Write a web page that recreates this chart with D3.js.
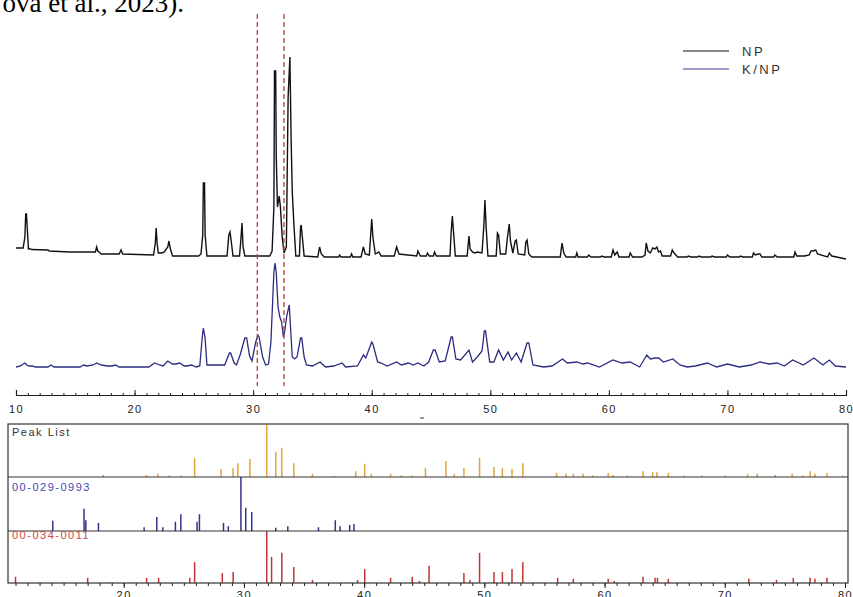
<!DOCTYPE html>
<html>
<head>
  <meta charset="utf-8">
  <title>XRD NP vs K/NP</title>
  <script src="https://cdn.jsdelivr.net/npm/d3@7/dist/d3.min.js"></script>
  <style>
    body { margin: 0; background: #fff; }
    svg { display: block; font-family: "Liberation Sans", Arial, sans-serif; }
  </style>
</head>
<body>
  <svg id="chart"></svg>

  <script>
    // 2-theta / counts (counts above each trace's own zero)
    const npTrace = [
      [10.0, 90], [10.6, 90], [10.75, 200], [10.82, 430], [10.88, 430], [10.95, 290], [11.05, 80], [11.15, 85], [11.3, 75],
      [12.7, 70], [12.8, 60], [14.5, 50], [16.7, 50], [16.8, 100], [16.9, 60], [17.2, 30], [18.7, 30],
      [18.86, 70], [19.0, 30], [21.6, 20], [21.75, 140], [21.82, 290], [21.9, 140], [22.0, 40], [22.3, 40],
      [22.5, 50], [22.8, 100], [22.9, 160], [23.0, 90], [23.2, 10], [25.4, 10], [25.6, 30], [25.75, 220],
      [25.8, 740], [25.9, 740], [25.95, 220], [26.1, 10], [27.8, 10], [27.95, 220], [28.05, 250], [28.15, 160], [28.3, 10],
      [28.85, 10], [28.95, 150], [29.06, 340], [29.15, 100], [29.3, 10], [31.4, 10], [31.6, 60], [31.75, 500],
      [31.8, 1860], [31.9, 1860], [31.95, 1000], [32.05, 500], [32.2, 610], [32.3, 500], [32.45, 200], [32.6, 40], [32.8, 100],
      [32.95, 1600], [33.1, 2000], [33.2, 1200], [33.3, 650], [33.45, 300], [33.6, 10], [33.9, 10], [34.0, 300],
      [34.05, 320], [34.15, 200], [34.3, 10], [35.45, 0], [35.6, 100], [35.75, 30], [36.0, 0], [37.2, 0],
      [37.3, 20], [37.4, 0], [38.2, 0], [38.3, 30], [38.4, 0], [39.1, 0], [39.3, 100], [39.45, 30], [39.8, 20],
      [39.9, 200], [40.0, 380], [40.1, 200], [40.3, 30], [40.6, 50], [40.8, 10], [41.9, 10], [42.1, 100],
      [42.3, 30], [43.8, 10], [43.9, 60], [44.1, 10], [44.6, 10], [44.7, 40], [44.85, 10], [45.2, 10],
      [45.3, 50], [45.45, 10], [46.6, 10], [46.7, 250], [46.8, 410], [46.9, 250], [47.05, 10], [48.05, 10],
      [48.2, 210], [48.3, 80], [48.5, 50], [48.7, 40], [48.9, 50], [49.3, 40], [49.45, 300], [49.55, 570],
      [49.65, 300], [49.8, 10], [50.5, 10], [50.6, 240], [50.7, 220], [50.85, 30], [51.3, 30], [51.45, 200],
      [51.6, 330], [51.7, 160], [51.9, 40], [52.1, 160], [52.2, 170], [52.35, 30], [52.9, 20], [53.0, 150],
      [53.1, 170], [53.25, 30], [53.5, 0], [55.9, 0], [56.05, 140], [56.2, 40], [56.4, 0], [57.2, 0],
      [57.3, 40], [57.4, 0], [58.2, 0], [58.3, 20], [58.5, 0], [59.3, 0], [59.4, 10], [59.6, 0], [60.2, 0],
      [60.35, 70], [60.5, 20], [60.7, 50], [60.85, 0], [61.7, 0], [61.8, 40], [62.0, 0], [62.8, 0],
      [63.05, 20], [63.15, 140], [63.3, 60], [63.5, 40], [63.7, 90], [63.9, 80], [64.05, 100], [64.2, 50],
      [64.35, 60], [64.5, 10], [65.2, 10], [65.35, 70], [65.5, 40], [65.8, 0], [66.6, 0], [66.7, 10],
      [66.9, 0], [67.5, 0], [67.6, 10], [67.8, 0], [68.6, 0], [68.7, 10], [68.9, 0], [69.9, 0], [70.0, 20],
      [70.2, 0], [71.0, 0], [71.1, 10], [71.3, 0], [72.1, 0], [72.2, 40], [72.35, 20], [72.6, 30],
      [72.75, 30], [72.9, 0], [73.9, 0], [74.0, 20], [74.2, 0], [75.6, 0], [75.7, 50], [75.85, 10],
      [76.5, 10], [76.9, 20], [77.05, 60], [77.2, 60], [77.45, 70], [77.6, 30], [78.45, 0], [78.6, 40],
      [78.8, 10], [79.2, 0], [80.0, -20]
    ];

    const knpTrace = [
      [10.0, 0], [10.4, 10], [10.6, 30], [10.76, 40], [10.9, 20], [11.1, 10], [11.4, 10], [11.6, 0],
      [12.7, 0], [12.95, 20], [13.2, 0], [15.4, 0], [15.7, 20], [16.0, 10], [16.5, 20], [16.8, 40],
      [17.2, 20], [17.7, 10], [18.1, 10], [18.4, 20], [18.7, 0], [21.2, 0], [21.7, 40], [22.1, 20],
      [22.4, 10], [22.8, 60], [23.2, 30], [23.5, 30], [23.8, 40], [24.2, 10], [24.4, 10], [24.8, 20],
      [25.2, 0], [25.5, 10], [25.7, 290], [25.8, 390], [25.95, 290], [26.1, 20], [26.4, 20], [27.6, 20],
      [28.0, 140], [28.1, 140], [28.4, 40], [28.6, 20], [28.9, 120], [29.3, 290], [29.45, 290], [29.7, 110],
      [29.9, 60], [30.2, 240], [30.4, 320], [30.5, 300], [30.8, 100], [31.05, 20], [31.3, 30], [31.5, 250],
      [31.75, 950], [31.85, 1040], [31.95, 940], [32.1, 600], [32.25, 500], [32.4, 450], [32.55, 300],
      [32.65, 350], [32.85, 520], [33.05, 620], [33.15, 400], [33.3, 100], [33.5, 80], [33.7, 100],
      [34.0, 290], [34.1, 290], [34.3, 100], [34.5, 20], [35.0, 10], [35.65, 50], [36.1, 0], [36.8, 10],
      [37.5, 40], [37.8, 0], [38.8, 10], [39.3, 120], [39.5, 90], [40.0, 250], [40.1, 230], [40.5, 50],
      [40.8, 40], [41.3, 10], [42.1, 50], [42.5, 20], [43.1, 40], [43.5, 20], [43.9, 40], [44.4, 10],
      [44.8, 50], [45.2, 170], [45.35, 170], [45.7, 50], [46.2, 60], [46.7, 300], [46.8, 300], [47.1, 80],
      [47.5, 70], [48.2, 170], [48.5, 50], [48.9, 100], [49.3, 160], [49.5, 360], [49.6, 360], [49.95, 50],
      [50.3, 50], [50.7, 170], [51.1, 70], [51.5, 150], [51.8, 70], [52.2, 140], [52.6, 50], [53.1, 240],
      [53.25, 240], [53.6, 20], [54.5, 0], [55.2, 10], [56.1, 80], [56.5, 40], [57.3, 50], [57.8, 30],
      [58.2, 40], [59.2, 0], [60.35, 70], [61.1, 40], [61.8, 50], [62.6, 0], [63.2, 120], [63.5, 80],
      [63.9, 90], [64.2, 90], [64.6, 50], [65.4, 80], [66.0, 20], [66.6, 0], [67.3, 10], [68.3, 40],
      [69.1, 0], [70.0, 30], [71.0, 0], [72.0, 20], [72.75, 50], [73.5, 30], [74.2, 40], [74.8, 10],
      [75.5, 70], [76.4, 20], [77.3, 90], [78.05, 20], [78.6, 70], [79.1, 10], [80.0, 0]
    ];

    // reference sticks: 2-theta, relative intensity %
    const peakList = [
      [18.3, 4], [21.9, 4], [22.85, 6], [23.8, 3], [24.8, 3], [25.9, 36], [28.1, 15], [29.1, 17], [29.5, 26],
      [30.5, 34], [31.9, 100], [32.65, 47], [33.15, 55], [34.15, 26], [35.7, 6], [37.5, 2], [39.3, 11],
      [40.05, 25], [40.6, 6], [42.2, 6], [43.1, 3], [44.0, 3], [45.1, 17], [46.8, 30], [47.5, 6], [48.3, 17],
      [49.6, 36], [50.8, 19], [51.5, 17], [52.3, 15], [53.2, 26], [56.0, 8], [56.8, 6], [57.4, 6], [58.2, 6],
      [59.0, 3], [60.3, 8], [60.7, 4], [61.9, 3], [63.2, 11], [64.0, 9], [64.35, 9], [65.3, 8], [66.6, 3],
      [68.1, 3], [70.0, 3], [71.9, 6], [72.7, 6], [74.2, 4], [75.6, 6], [76.5, 3], [77.1, 11], [77.5, 6],
      [78.5, 8], [79.8, 3]
    ];
    const ref0290993 = [
      [14.1, 19], [16.7, 41], [16.85, 20], [17.9, 15], [21.7, 7], [22.75, 26], [23.25, 7], [24.3, 17],
      [24.75, 31], [26.1, 17], [26.3, 31], [28.3, 15], [28.7, 9], [29.75, 100], [30.15, 43], [30.65, 35],
      [32.65, 6], [33.65, 9], [36.2, 7], [37.6, 20], [38.0, 9], [38.8, 11], [39.15, 13]
    ];
    const ref0340011 = [
      [11.0, 12], [17.0, 10], [21.9, 10], [22.9, 10], [25.5, 10], [25.9, 40], [28.2, 19], [29.1, 21],
      [31.9, 100], [32.3, 50], [33.15, 58], [34.15, 31], [35.7, 6], [39.45, 6], [40.05, 27], [42.2, 10],
      [44.0, 12], [44.6, 4], [45.4, 33], [48.3, 19], [48.8, 6], [49.6, 58], [50.8, 21], [51.5, 21],
      [52.3, 27], [53.2, 40], [56.1, 10], [57.4, 8], [60.3, 8], [60.8, 4], [63.2, 12], [64.2, 10],
      [64.4, 10], [65.3, 8], [72.0, 8], [74.3, 6], [75.7, 10], [77.1, 10], [77.5, 8], [78.5, 10]
    ];

    const markLines = [30.35, 32.6];
    const seriesNames = ["NP", "K/NP"];
    const panelNames = ["Peak List", "00-029-0993", "00-034-0011"];
    const topTicks = [10, 20, 30, 40, 50, 60, 70, 80];
    const bottomTicks = [20, 30, 40, 50, 60, 70, 80];

    const width = 853, height = 597;
    const npOffset = 1100;

    const svg = d3.select("#chart")
      .attr("width", width)
      .attr("height", height);

    // cut-off caption from the page above the figure
    svg.append("text")
      .attr("x", 184).attr("y", 12)
      .attr("text-anchor", "end")
      .style("font-family", "'Liberation Serif', 'Times New Roman', serif")
      .style("font-size", "27px")
      .attr("fill", "#000")
      .text("ova et al., 2023).");

    // main pattern
    const x = d3.scaleLinear().domain([10, 80]).range([16, 846]);
    const y = d3.scaleLinear().domain([0, 3100]).range([367, 57]);

    const line = off => d3.line()
      .x(d => x(d[0]))
      .y(d => y(d[1] + off));

    svg.append("path")
      .datum(npTrace)
      .attr("fill", "none")
      .attr("stroke", "#111")
      .attr("stroke-width", 1.4)
      .attr("d", line(npOffset));

    svg.append("path")
      .datum(knpTrace)
      .attr("fill", "none")
      .attr("stroke", "#2c2c80")
      .attr("stroke-width", 1.3)
      .attr("d", line(0));

    // red dashed markers
    svg.append("g")
      .selectAll("line")
      .data(markLines)
      .join("line")
      .attr("x1", d => x(d)).attr("x2", d => x(d))
      .attr("y1", 14).attr("y2", 386)
      .attr("stroke", "#b8403a")
      .attr("stroke-width", 1.3)
      .attr("stroke-dasharray", "5,3");

    // top axis
    const axTop = svg.append("g").attr("transform", "translate(0,395)");
    axTop.call(d3.axisBottom(x).ticks(70).tickSize(-2).tickFormat(""))
      .call(g => g.select(".domain").remove());
    axTop.append("g")
      .call(d3.axisBottom(x).tickValues(topTicks).tickSize(-5).tickPadding(10).tickFormat(d3.format("d")))
      .call(g => g.selectAll("text").style("font-size", "11px").style("letter-spacing", "1.5px").attr("fill", "#222"));
    axTop.selectAll("line").attr("stroke", "#222");
    axTop.selectAll(".domain").attr("stroke", "#222").attr("stroke-width", 1.2);

    axTop.append("line")
      .attr("x1", 420).attr("x2", 424).attr("y1", 23).attr("y2", 23)
      .attr("stroke", "#333");

    // legend
    const legend = svg.append("g").attr("transform", "translate(683,51)");
    legend.selectAll("g")
      .data(seriesNames)
      .join("g")
      .attr("transform", (d, i) => `translate(0,${i * 18})`)
      .each(function (d, i) {
        const g = d3.select(this);
        g.append("line").attr("x1", 0).attr("x2", 46)
          .attr("stroke", i ? "#3c3c9a" : "#111").attr("stroke-width", 1.2);
        g.append("text").attr("x", 59).attr("y", 5)
          .style("font-size", "13px").style("letter-spacing", "2.5px")
          .attr("fill", "#333").text(d);
      });

    // stick panels
    const xb = d3.scaleLinear().domain([10, 80]).range([3.5, 845]);
    const panels = [
      { name: panelNames[0], data: peakList, color: "#e0a63c", label: "#333", top: 424, bottom: 477, ly: 436 },
      { name: panelNames[1], data: ref0290993, color: "#33338c", label: "#4646b4", top: 477, bottom: 531, ly: 491 },
      { name: panelNames[2], data: ref0340011, color: "#c23535", label: "#d04a4a", top: 531, bottom: 583, ly: 539 }
    ];

    panels.forEach(p => {
      const yp = d3.scaleLinear().domain([0, 100]).range([p.bottom, p.top]);
      svg.append("g")
        .selectAll("line")
        .data(p.data)
        .join("line")
        .attr("x1", d => xb(d[0])).attr("x2", d => xb(d[0]))
        .attr("y1", yp(0)).attr("y2", d => yp(d[1]))
        .attr("stroke", p.color)
        .attr("stroke-width", 1.5);
    });

    svg.append("rect")
      .attr("x", 8).attr("y", 424).attr("width", 840).attr("height", 159)
      .attr("fill", "none").attr("stroke", "#333").attr("stroke-width", 1.2);
    svg.append("g")
      .selectAll("line")
      .data(panels.slice(1))
      .join("line")
      .attr("x1", 8).attr("x2", 848)
      .attr("y1", d => d.top).attr("y2", d => d.top)
      .attr("stroke", "#333").attr("stroke-width", 1.2);

    svg.append("g")
      .selectAll("text")
      .data(panels)
      .join("text")
      .attr("x", 12).attr("y", d => d.ly)
      .style("font-size", "11px").style("letter-spacing", "1.5px")
      .attr("fill", d => d.label)
      .text(d => d.name);

    // bottom axis
    const axBot = svg.append("g").attr("transform", "translate(0,583)");
    axBot.call(d3.axisBottom(xb).tickValues(d3.range(11, 81)).tickSize(3).tickFormat(""))
      .call(g => g.select(".domain").remove());
    axBot.append("g")
      .call(d3.axisBottom(xb).tickValues(bottomTicks).tickSize(5).tickPadding(3).tickFormat(d3.format("d")))
      .call(g => g.select(".domain").remove())
      .call(g => g.selectAll("text").style("font-size", "11px").style("letter-spacing", "1.5px").attr("fill", "#222"));
    axBot.selectAll("line").attr("stroke", "#222");
  </script>
</body>
</html>
